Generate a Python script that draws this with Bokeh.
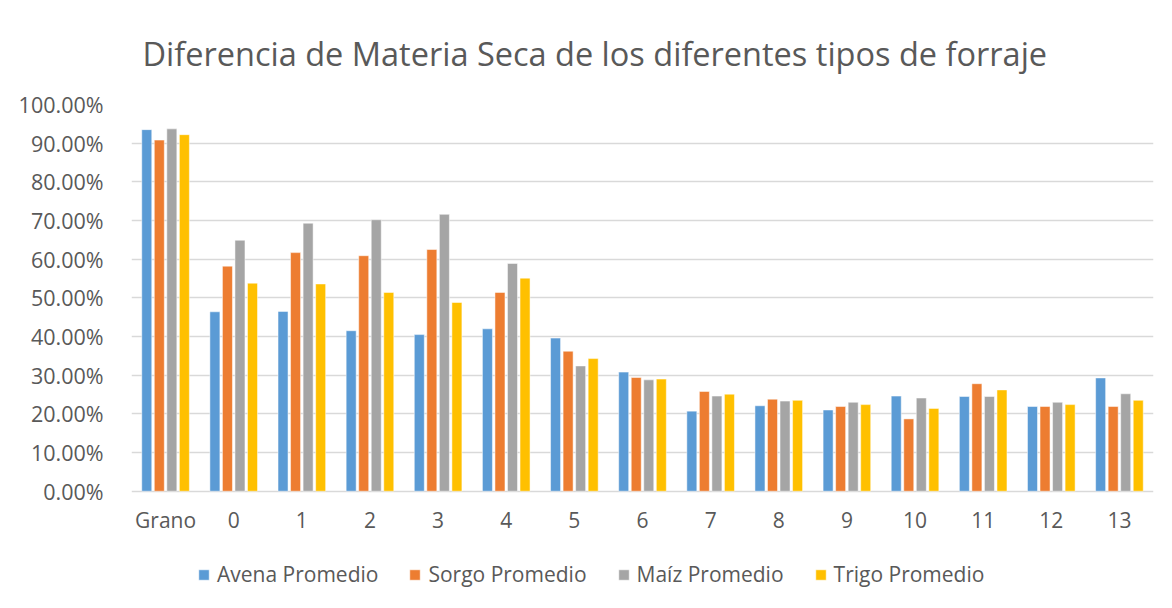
from bokeh.plotting import figure
from bokeh.models import ColumnDataSource, FactorRange, NumeralTickFormatter, Legend, LegendItem
from bokeh.transform import dodge
from bokeh.core.properties import value
from bokeh.embed import file_html
from bokeh.resources import INLINE

categories = ["Grano", "0", "1", "2", "3", "4", "5", "6", "7", "8", "9", "10", "11", "12", "13"]
avena = [0.935, 0.464, 0.465, 0.415, 0.405, 0.420, 0.396, 0.308, 0.207, 0.221, 0.210, 0.246, 0.245, 0.219, 0.293]
sorgo = [0.908, 0.582, 0.617, 0.609, 0.625, 0.514, 0.362, 0.294, 0.258, 0.238, 0.219, 0.187, 0.278, 0.219, 0.219]
maiz = [0.937, 0.649, 0.693, 0.702, 0.716, 0.589, 0.324, 0.288, 0.246, 0.233, 0.230, 0.241, 0.245, 0.230, 0.252]
trigo = [0.922, 0.538, 0.536, 0.514, 0.488, 0.551, 0.343, 0.290, 0.251, 0.235, 0.224, 0.214, 0.262, 0.224, 0.235]
y_ticks = [0.0, 0.1, 0.2, 0.3, 0.4, 0.5, 0.6, 0.7, 0.8, 0.9, 1.0]

series_names = ["Avena Promedio", "Sorgo Promedio", "Maíz Promedio", "Trigo Promedio"]
colors = ["#5B9BD5", "#ED7D31", "#A5A5A5", "#FFC000"]
keys = ["avena", "sorgo", "maiz", "trigo"]

src = ColumnDataSource(dict(cat=categories, avena=avena, sorgo=sorgo, maiz=maiz, trigo=trigo,
                            base=[0.0] * len(categories)))

FONT = "Open Sans"
TXT = "#595959"

# frame extends below zero to host the category labels and the legend
p = figure(x_range=FactorRange(factors=categories, range_padding=0), y_range=(-0.28, 1.0),
           frame_width=1022, frame_height=495, output_backend="svg", toolbar_location=None,
           min_border_left=131, min_border_right=10, min_border_top=28, min_border_bottom=0)
p.styles = {"box-shadow": "-2px -2px 0 0 #D9D9D9"}

p.title.text = "Diferencia de Materia Seca de los diferentes tipos de forraje"
p.title.text_font = FONT
p.title.text_font_size = "32.5px"
p.title.text_font_style = "normal"
p.title.text_color = TXT
p.title.align = "left"
p.title.offset = 11
p.title.standoff = 57

offsets = [-0.276, -0.092, 0.092, 0.276]
items = []
for k, name, c, off in zip(keys, series_names, colors, offsets):
    r = p.vbar(x=dodge("cat", off, range=p.x_range), top=k, width=0.147, source=src,
               fill_color=c, line_color="white", line_width=0.5)
    items.append(LegendItem(label=name, renderers=[r]))

# category labels under the zero line
p.text(x="cat", y="base", text="cat", source=src, text_font=value(FONT), text_font_size="21px",
       text_color=TXT, text_align="center", text_baseline="middle", y_offset=29)

legend = Legend(items=items, orientation="horizontal", location=(66, 11),
                label_text_font=FONT, label_text_font_size="21px", label_text_color=TXT,
                glyph_width=13, glyph_height=13, label_standoff=7, spacing=30,
                border_line_color=None, background_fill_alpha=0, margin=0, padding=0)
p.add_layout(legend, "center")

p.yaxis.formatter = NumeralTickFormatter(format="0.00%")
p.yaxis.ticker = y_ticks
p.yaxis.axis_line_color = None
p.yaxis.major_tick_line_color = None
p.yaxis.minor_tick_line_color = None
p.yaxis.major_label_text_font = FONT
p.yaxis.major_label_text_font_size = "21.5px"
p.yaxis.major_label_text_color = TXT
p.yaxis.major_label_standoff = 22

p.xaxis.visible = False

p.xgrid.grid_line_color = None
p.ygrid.grid_line_color = "#D9D9D9"
p.ygrid.grid_line_width = 1.5
p.outline_line_color = None

open("out.html", "w").write(file_html(p, INLINE))
